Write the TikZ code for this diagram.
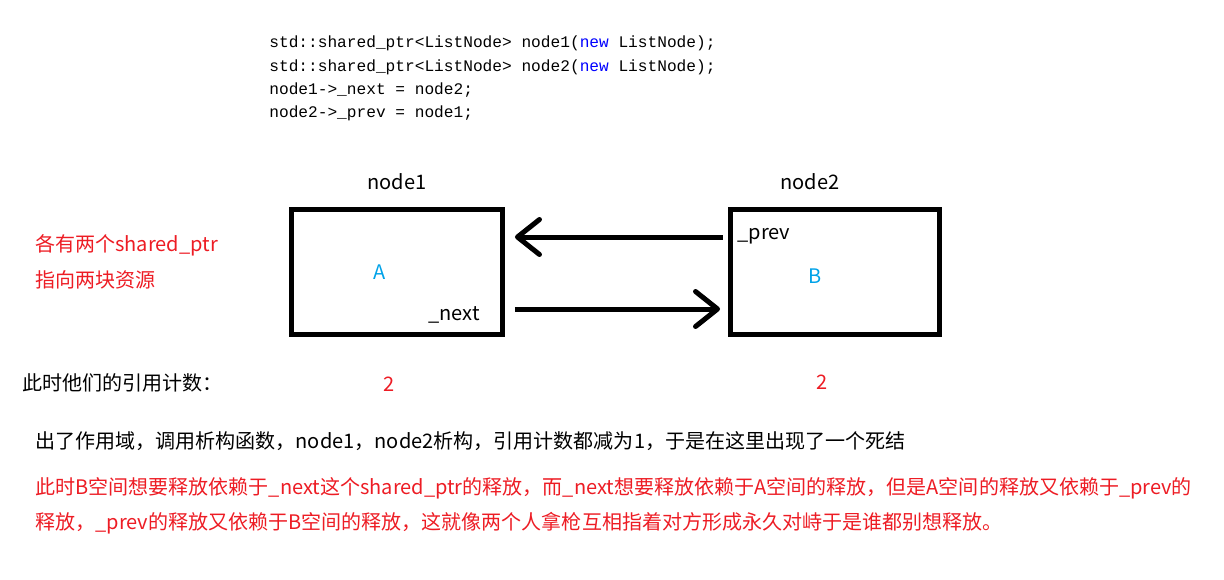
\documentclass[tikz,border=0pt]{standalone}
\usepackage{fontspec}
\setmainfont{Noto Sans CJK SC}
\setmonofont{Liberation Mono}
\usetikzlibrary{positioning,arrows.meta}
\usepackage{xcolor}
\definecolor{noteRed}{HTML}{ED1C24}
\definecolor{memBlue}{HTML}{00A2E8}
\definecolor{kwBlue}{HTML}{0000FF}

\begin{document}
\begin{tikzpicture}[x=0.02cm, y=-0.02cm,
  txt/.style={font=\fontsize{11.4}{14}\selectfont, inner sep=0pt},
  code/.style={font=\fontsize{9.2}{11}\selectfont\ttfamily, inner sep=0pt, anchor=west},
  membox/.style={draw=black, line width=0.1cm, minimum height=2.5cm, inner sep=0pt},
  ptr/.style={line width=0.1cm, -{Straight Barb[round, length=0.44cm, width=0.7cm]}}]
  \useasboundingbox (0,0) rectangle (1224,579);

  % The code on top
  \node[code] (line1) at (269, 43)  {std::shared\_ptr<ListNode> node1(\textcolor{kwBlue}{new} ListNode);};
  \node[code] (line2) at (269, 67)  {std::shared\_ptr<ListNode> node2(\textcolor{kwBlue}{new} ListNode);};
  \node[code] (line3) at (269, 90)  {node1->\_next = node2;};
  \node[code] (line4) at (269, 113) {node2->\_prev = node1;};

  % The two resources
  \node[membox, minimum width=4.24cm] (box1) at (397, 272) {};
  \node[membox, minimum width=4.2cm]  (box2) at (835, 272) {};
  \node[txt] (name1) at (397, 182) {node1};
  \node[txt] (name2) at (810, 182) {node2};
  \node[txt, text=memBlue] (resA) at (380, 272) {A};
  \node[txt, text=memBlue] (resB) at (815, 276) {B};
  \node[txt] (next) at (454, 315) {\_next};
  \node[txt] (prev) at (764, 236) {\_prev};

  % Pointers between them
  \draw[ptr, shorten <=0.1cm, shorten >=0.19cm] (box2.west |- 0,237) -- (box1.east |- 0,237);
  \draw[ptr, shorten <=0.19cm, shorten >=0.15cm] (box1.east |- 0,309) -- (box2.west |- 0,309);

  % Notes
  \node[txt, text=noteRed, anchor=west] (note1) at (35, 245) {各有两个shared\_ptr};
  \node[txt, text=noteRed, anchor=west] (note2) at (35, 280) {指向两块资源};
  \node[txt, anchor=west] (count) at (22, 383) {此时他们的引用计数：};
  \node[txt, text=noteRed] (cnt1) at (389, 384) {2};
  \node[txt, text=noteRed] (cnt2) at (822, 382) {2};
  \node[txt, anchor=west] (scope) at (35, 441)
    {出了作用域，调用析构函数，node1，node2析构，引用计数都减为1，于是在这里出现了一个死结};
  \node[txt, text=noteRed, anchor=west] (dead1) at (35, 488)
    {此时B空间想要释放依赖于\_next这个shared\_ptr的释放，而\_next想要释放依赖于A空间的释放，但是A空间的释放又依赖于\_prev的};
  \node[txt, text=noteRed, anchor=west] (dead2) at (35, 523)
    {释放，\_prev的释放又依赖于B空间的释放，这就像两个人拿枪互相指着对方形成永久对峙于是谁都别想释放。};
\end{tikzpicture}
\end{document}
